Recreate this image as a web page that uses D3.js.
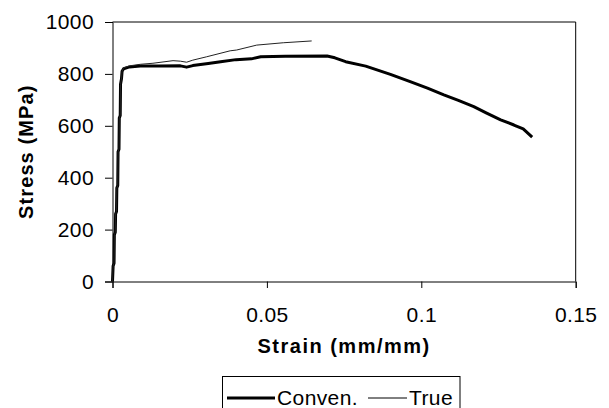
<!DOCTYPE html>
<html lang="en">
<head>
    <meta charset="utf-8">
    <title>stress strain</title>
    <script src="https://d3js.org/d3.v7.min.js"></script>
    <style>
        body { margin: 0; background: #fff; }
        text { font-family: "Liberation Sans", Arial, sans-serif; }
    </style>
</head>
<body>
<script type="text/javascript">

    //data
    const convStrain = [0, 0.0002, 0.0005, 0.0006, 0.0009, 0.0010, 0.0013, 0.0014, 0.0017, 0.0018, 0.0021, 0.0022,
        0.0025, 0.0026, 0.0029, 0.0031, 0.0036, 0.0055, 0.009, 0.015, 0.022, 0.024, 0.026, 0.031, 0.035, 0.040,
        0.045, 0.048, 0.056, 0.0695, 0.072, 0.0755, 0.082, 0.090, 0.0964, 0.102, 0.1073, 0.112, 0.117, 0.121,
        0.1257, 0.130, 0.133, 0.1359];
    const convStress = [0, 60, 70, 180, 190, 260, 270, 360, 370, 500, 510, 630,
        640, 760, 780, 810, 820, 827, 830, 830, 831, 826, 832, 840, 847, 855,
        858, 866, 868, 869, 862, 847, 830, 798, 770, 745, 719, 698, 674, 650,
        623, 603, 588, 556];

    const trueStrain = [0, 0.0002, 0.0005, 0.0006, 0.0009, 0.0010, 0.0013, 0.0014, 0.0017, 0.0018, 0.0021, 0.0022,
        0.0025, 0.0026, 0.0029, 0.0031, 0.0036, 0.0055, 0.009, 0.0131, 0.0196, 0.022, 0.024, 0.026, 0.0305,
        0.0381, 0.0402, 0.0467, 0.0553, 0.0645];
    const trueStress = [0, 60, 70, 180, 190, 260, 270, 360, 370, 500, 510, 630,
        640, 760, 780, 810, 823, 831, 837, 841, 851, 849, 845, 853, 866,
        889, 892, 911, 920, 927];

    const xTicks = [0, 0.05, 0.1, 0.15];
    const yTicks = [0, 200, 400, 600, 800, 1000];
    const seriesNames = ["Conven.", "True"];

    const w = 609;
    const h = 408;
    const margin = {left: 112.5, right: 33.3, top: 22, bottom: 126.5};

    const x = d3.scaleLinear().domain([0, 0.15]).range([margin.left, w - margin.right]);
    const y = d3.scaleLinear().domain([0, 1000]).range([h - margin.bottom, margin.top]);

    const svg = d3.select("body")
        .append("svg")
        .attr("width", w)
        .attr("height", h);

    //box on top and right
    svg.append("path")
        .attr("d", "M" + x(0) + "," + y(1000) + "H" + x(0.15) + "V" + y(0))
        .attr("fill", "none")
        .attr("stroke", "#000")
        .attr("stroke-width", 1);

    //axes
    const xAxis = svg.append("g")
        .attr("transform", "translate(0," + y(0) + ")")
        .call(d3.axisBottom(x).tickValues(xTicks).tickSize(6.5).tickPadding(19).tickFormat(d3.format("")));

    const yAxis = svg.append("g")
        .attr("transform", "translate(" + x(0) + ",0)")
        .call(d3.axisLeft(y).tickValues(yTicks).tickSize(7.5).tickPadding(11).tickFormat(d3.format("")));

    [xAxis, yAxis].forEach(g => {
        g.select(".domain").attr("stroke", "#000");
        g.selectAll(".tick line").attr("stroke", "#000");
        g.selectAll(".tick text")
            .attr("fill", "#000")
            .style("font-size", "21px")
            .style("letter-spacing", "0.4px")
            .style("font-family", "'Liberation Sans', Arial, sans-serif");
    });

    //axis titles
    svg.append("text")
        .attr("x", (x(0) + x(0.15)) / 2)
        .attr("y", 353)
        .attr("text-anchor", "middle")
        .style("font-size", "20px")
        .style("font-weight", "bold")
        .style("letter-spacing", "1.5px")
        .text("Strain (mm/mm)");

    svg.append("text")
        .attr("transform", "translate(33," + (y(0) + y(1000)) / 2 + ") rotate(-90)")
        .attr("text-anchor", "middle")
        .style("font-size", "20px")
        .style("font-weight", "bold")
        .style("letter-spacing", "1.1px")
        .text("Stress (MPa)");

    //lines
    const line = d3.line()
        .x(d => x(d[0]))
        .y(d => y(d[1]));

    const convData = convStrain.map((s, i) => [s, convStress[i]]);
    const trueData = trueStrain.map((s, i) => [s, trueStress[i]]);

    svg.append("path")
        .datum(convData)
        .attr("d", line)
        .attr("fill", "none")
        .attr("stroke", "#000")
        .attr("stroke-width", 3)
        .attr("stroke-linejoin", "round");

    svg.append("path")
        .datum(trueData)
        .attr("d", line)
        .attr("fill", "none")
        .attr("stroke", "#222")
        .attr("stroke-width", 1);

    //legend
    const legend = svg.append("g");
    legend.append("rect")
        .attr("x", 222.5)
        .attr("y", 376.5)
        .attr("width", 237.5)
        .attr("height", 40)
        .attr("fill", "#fff")
        .attr("stroke", "#000");

    const legendItems = [
        {name: seriesNames[0], x1: 227, x2: 275, width: 3, tx: 277},
        {name: seriesNames[1], x1: 368, x2: 407, width: 1, tx: 409}
    ];

    legendItems.forEach(it => {
        legend.append("line")
            .attr("x1", it.x1).attr("x2", it.x2)
            .attr("y1", 398).attr("y2", 398)
            .attr("stroke", "#000")
            .attr("stroke-width", it.width);
        legend.append("text")
            .attr("x", it.tx)
            .attr("y", 405)
            .style("font-size", "21px")
            .style("letter-spacing", "0.4px")
            .text(it.name);
    });

</script>
</body>
</html>
